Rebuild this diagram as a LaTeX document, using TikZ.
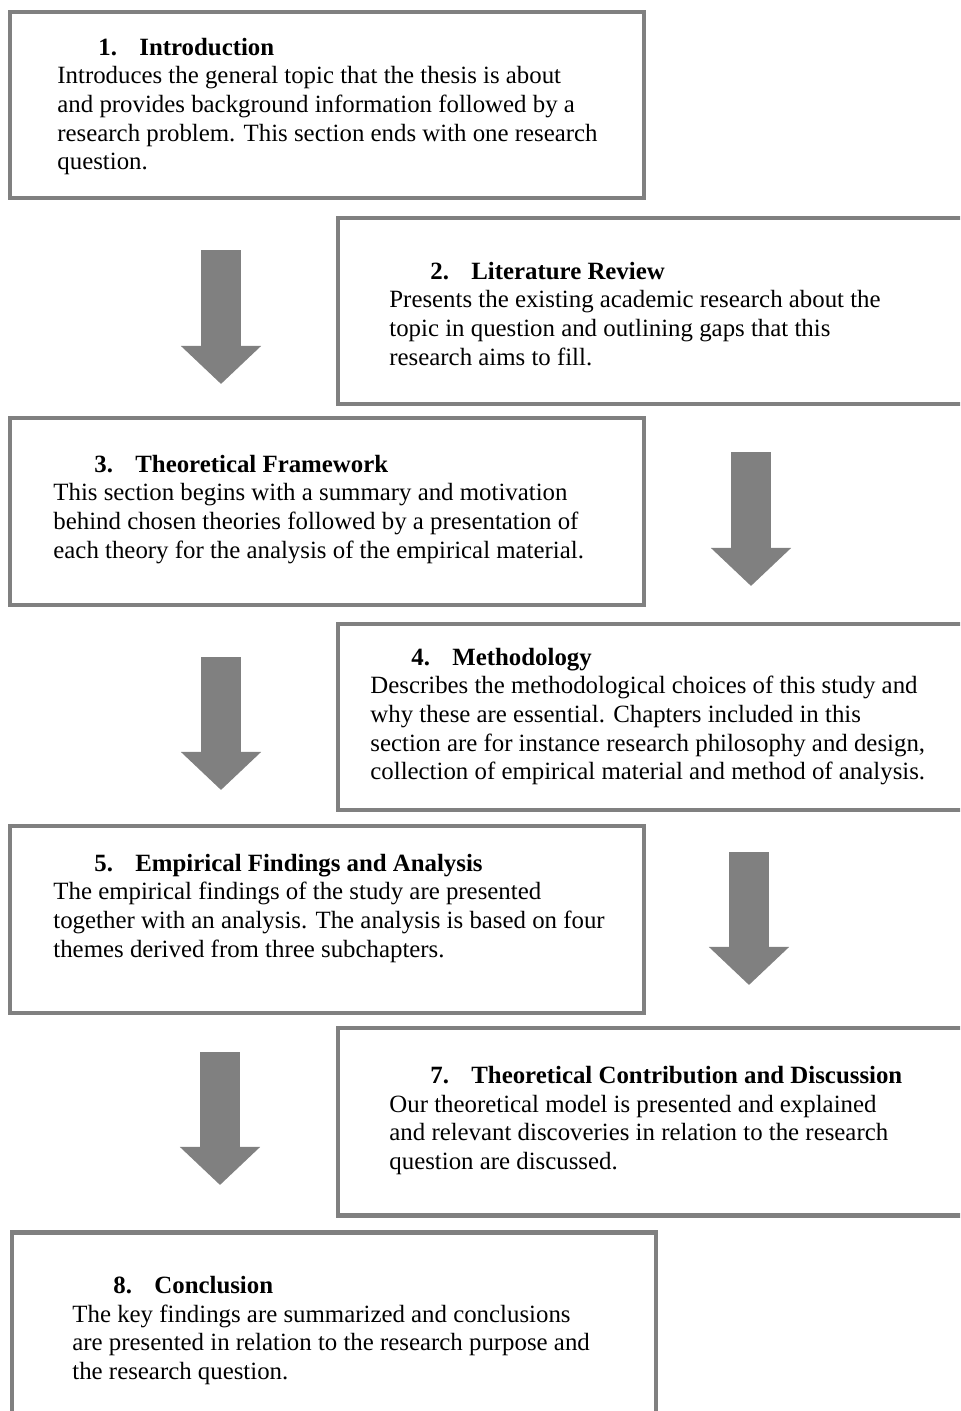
\documentclass[tikz,border=0pt]{standalone}
\usepackage{fontspec}
\setmainfont{Liberation Serif}
\usetikzlibrary{arrows.meta}
\definecolor{boxgray}{HTML}{808080}
\tikzset{
  chapbox/.style={draw=boxgray, line width=2.4pt},
  chaptext/.style={anchor=north west, inner sep=0pt, align=left, font=\fontsize{12}{13.8}\selectfont},
  flowarrow/.style={draw=boxgray, line width=19.3pt, -{Triangle[width=37.7pt,length=18.4pt]}}
}
\newcommand{\chaptitle}[2]{\strut\hspace*{19.8pt}\textbf{\makebox[19.8pt][l]{#1}#2}}
\begin{document}
\begin{tikzpicture}[x=0.483pt,y=-0.483pt]
\useasboundingbox (0,0) rectangle (960,1411);
\clip (0,0) rectangle (960,1411);
% boxes
\draw [chapbox] (10,12) rectangle (644,198);
\draw [chapbox] (338,218) rectangle (975,404);
\draw [chapbox] (10,418) rectangle (644,605);
\draw [chapbox] (338,624) rectangle (975,810);
\draw [chapbox] (10,826) rectangle (644,1013);
\draw [chapbox] (338,1028) rectangle (975,1215);
\draw [chapbox] (12,1232) rectangle (656,1430);
% texts
\node [chaptext] (intro) at (57,35) {\chaptitle{1.}{Introduction}\\
Introduces the general topic that the thesis is about\\
and provides background information followed by a\\
research problem. This section ends with one research\\
question.};
\node [chaptext] (litrev) at (389,259) {\chaptitle{2.}{Literature Review}\\
Presents the existing academic research about the\\
topic in question and outlining gaps that this\\
research aims to fill.};
\node [chaptext] (theory) at (53,452) {\chaptitle{3.}{Theoretical Framework}\\
This section begins with a summary and motivation\\
behind chosen theories followed by a presentation of\\
each theory for the analysis of the empirical material.};
\node [chaptext] (method) at (370,645) {\chaptitle{4.}{Methodology}\\
Describes the methodological choices of this study and\\
why these are essential. Chapters included in this\\
section are for instance research philosophy and design,\\
collection of empirical material and method of analysis.};
\node [chaptext] (findings) at (53,851) {\chaptitle{5.}{Empirical Findings and Analysis}\\
The empirical findings of the study are presented\\
together with an analysis. The analysis is based on four\\
themes derived from three subchapters.};
\node [chaptext] (contrib) at (389,1063) {\chaptitle{7.}{Theoretical Contribution and Discussion}\\
Our theoretical model is presented and explained\\
and relevant discoveries in relation to the research\\
question are discussed.};
\node [chaptext] (concl) at (72,1273) {\chaptitle{8.}{Conclusion}\\
The key findings are summarized and conclusions\\
are presented in relation to the research purpose and\\
the research question.};
% arrows
\draw [flowarrow] (221,250) -- (221,384);
\draw [flowarrow] (751,452) -- (751,586);
\draw [flowarrow] (221,657) -- (221,790);
\draw [flowarrow] (749,852) -- (749,985);
\draw [flowarrow] (220,1052) -- (220,1185);
\end{tikzpicture}
\end{document}
